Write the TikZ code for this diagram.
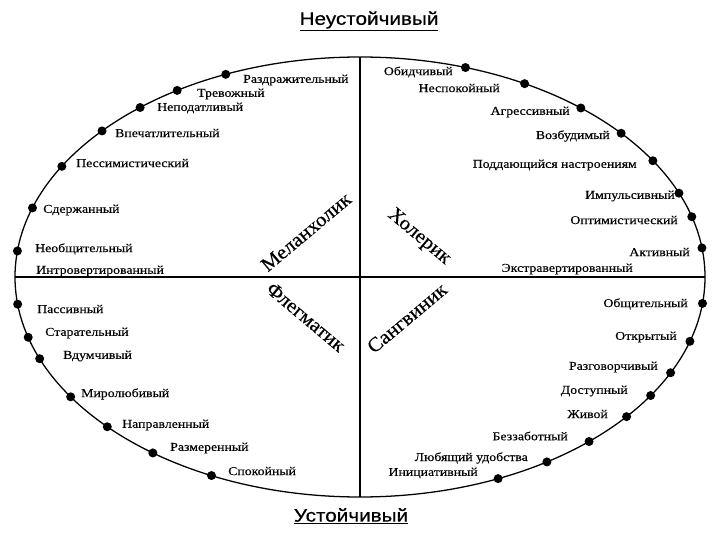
\documentclass[tikz,border=0pt]{standalone}
\usepackage{fontspec}
\usepackage{tikz}
\newfontfamily\lblfont[FakeStretch=1.15,FakeBold=0.3]{Liberation Serif}
\newfontfamily\tmprfont[FakeStretch=1.05,FakeBold=0.3]{Liberation Serif}
\newfontfamily\ttlfont[FakeStretch=1.15,FakeBold=0.6]{Liberation Sans}
\tikzset{
  lbl/.style={font=\lblfont\fontsize{12}{14}\selectfont, inner sep=0pt},
  tmpr/.style={font=\tmprfont\fontsize{20}{22}\selectfont, inner sep=0pt},
  ttl/.style={font=\ttlfont\fontsize{18}{20}\selectfont, inner sep=0pt},
  dot/.style={circle, fill=black, minimum size=9pt, inner sep=0pt}
}
\begin{document}
\begin{tikzpicture}[x=1pt,y=-1pt]
        \useasboundingbox (0,0) rectangle (720,540);
        % Titles
        \node[ttl] (unstable) at (369,21) {\underline{Неустойчивый}};
        \node[ttl] (stable) at (351,516) {\underline{Устойчивый}};
        % Axes end points
        \coordinate (top) at (360,57);
        \coordinate (bottom) at (360,497);
        \coordinate (left) at (15,277);
        \coordinate (right) at (705,277);
        \draw[line width=0.6mm] (top) -- (bottom);
        \draw[line width=0.6mm] (left) -- (right);
        % Ellipse and dots on it
        \begin{scope}[shift={(360,277)}]
          \draw[line width=0.45mm] (0,0) ellipse [x radius=345, y radius=220];
          \node[dot] (razdr) at (-112.9:345 and 220) {};
          \node[dot] (trev) at (-122:345 and 220) {};
          \node[dot] (nepod) at (-129.6:345 and 220) {};
          \node[dot] (vpech) at (-138.4:345 and 220) {};
          \node[dot] (pessim) at (-149.8:345 and 220) {};
          \node[dot] (sderzh) at (-161.7:345 and 220) {};
          \node[dot] (neobsch) at (-173.2:345 and 220) {};
          \node[dot] (pass) at (-187.1:345 and 220) {};
          \node[dot] (starat) at (-195.9:345 and 220) {};
          \node[dot] (vdum) at (-201.8:345 and 220) {};
          \node[dot] (mirol) at (-213:345 and 220) {};
          \node[dot] (napr) at (-222.9:345 and 220) {};
          \node[dot] (razmer) at (-233.1:345 and 220) {};
          \node[dot] (spok) at (-244.5:345 and 220) {};
          \node[dot] (obid) at (-72.2:345 and 220) {};
          \node[dot] (nespok) at (-61.5:345 and 220) {};
          \node[dot] (agress) at (-50.2:345 and 220) {};
          \node[dot] (vozb) at (-40.8:345 and 220) {};
          \node[dot] (podd) at (-31.9:345 and 220) {};
          \node[dot] (impuls) at (-22.4:345 and 220) {};
          \node[dot] (optim) at (-15.9:345 and 220) {};
          \node[dot] (aktiv) at (-7.6:345 and 220) {};
          \node[dot] (obsch) at (6.9:345 and 220) {};
          \node[dot] (otkr) at (17:345 and 220) {};
          \node[dot] (razgov) at (25.8:345 and 220) {};
          \node[dot] (dostup) at (32.6:345 and 220) {};
          \node[dot] (zhiv) at (39.4:345 and 220) {};
          \node[dot] (bezzab) at (48.4:345 and 220) {};
          \node[dot] (lyub) at (57.2:345 and 220) {};
          \node[dot] (inic) at (66.4:345 and 220) {};
        \end{scope}
        % Left labels
        \node[lbl, anchor=west] (razdr-t) at (243,80) {Раздражительный};
        \node[lbl, anchor=west] (trev-t) at (197,94) {Тревожный};
        \node[lbl, anchor=west] (nepod-t) at (157,108) {Неподатливый};
        \node[lbl, anchor=west] (vpech-t) at (115,133) {Впечатлительный};
        \node[lbl, anchor=west] (pessim-t) at (76,163) {Пессимистический};
        \node[lbl, anchor=west] (sderzh-t) at (43,210) {Сдержанный};
        \node[lbl, anchor=west] (neobsch-t) at (35,249) {Необщительный};
        \node[lbl, anchor=west] (intro-t) at (36,271) {Интровертированный};
        \node[lbl, anchor=west] (pass-t) at (37,309) {Пассивный};
        \node[lbl, anchor=west] (starat-t) at (45,333) {Старательный};
        \node[lbl, anchor=west] (vdum-t) at (63,356) {Вдумчивый};
        \node[lbl, anchor=west] (mirol-t) at (81,394) {Миролюбивый};
        \node[lbl, anchor=west] (napr-t) at (122,425) {Направленный};
        \node[lbl, anchor=west] (razmer-t) at (170,448) {Размеренный};
        \node[lbl, anchor=west] (spok-t) at (228,471) {Спокойный};
        % Right labels
        \node[lbl, anchor=east] (obid-t) at (453,72) {Обидчивый};
        \node[lbl, anchor=east] (nespok-t) at (500,88) {Неспокойный};
        \node[lbl, anchor=east] (agress-t) at (570,112) {Агрессивный};
        \node[lbl, anchor=east] (vozb-t) at (610,136) {Возбудимый};
        \node[lbl, anchor=east] (podd-t) at (637,165) {Поддающийся настроениям};
        \node[lbl, anchor=east] (impuls-t) at (675,196) {Импульсивный};
        \node[lbl, anchor=east] (optim-t) at (678,220) {Оптимистический};
        \node[lbl, anchor=east] (aktiv-t) at (690,252) {Активный};
        \node[lbl, anchor=east] (ekstra-t) at (633,269) {Экстравертированный};
        \node[lbl, anchor=east] (obsch-t) at (688,304) {Общительный};
        \node[lbl, anchor=east] (otkr-t) at (677,337) {Открытый};
        \node[lbl, anchor=east] (razgov-t) at (658,367) {Разговорчивый};
        \node[lbl, anchor=east] (dostup-t) at (628,391) {Доступный};
        \node[lbl, anchor=east] (zhiv-t) at (608,414) {Живой};
        \node[lbl, anchor=east] (bezzab-t) at (568,436) {Беззаботный};
        \node[lbl, anchor=east] (lyub-t) at (528,458) {Любящий удобства};
        \node[lbl, anchor=east] (inic-t) at (478,473) {Инициативный};
        % Temperaments
        \node[tmpr, rotate=40] (melan) at (306,232) {Меланхолик};
        \node[tmpr, rotate=-40] (holer) at (419,237) {Холерик};
        \node[tmpr, rotate=-40] (flegm) at (306,317) {Флегматик};
        \node[tmpr, rotate=40] (sangv) at (407,318) {Сангвиник};
      \end{tikzpicture}
\end{document}
